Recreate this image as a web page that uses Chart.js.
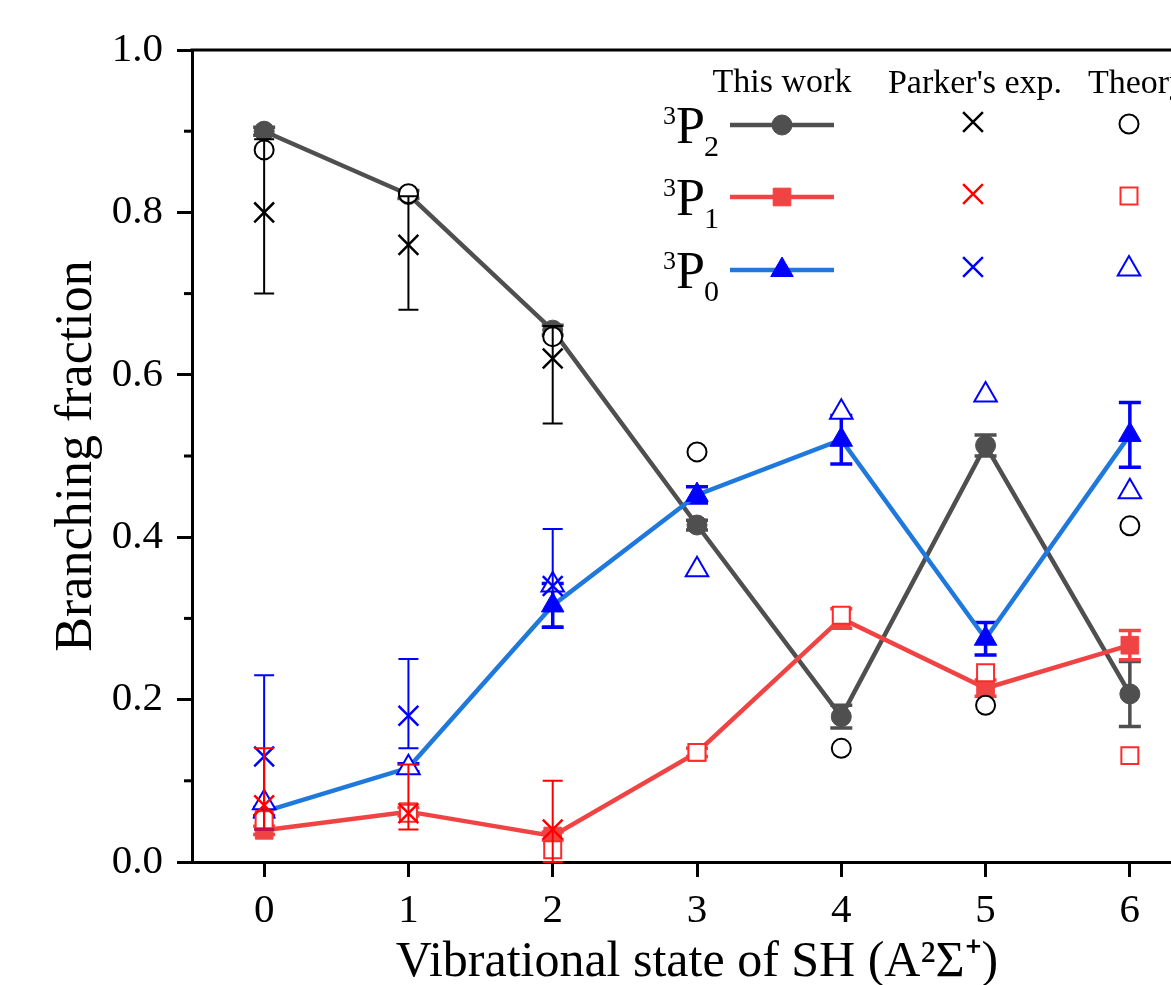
<!DOCTYPE html>
<html>
<head>
<meta charset="utf-8">
<script src="https://cdn.jsdelivr.net/npm/chart.js@4.4.1/dist/chart.umd.min.js"></script>
<style>
  html, body { margin: 0; padding: 0; overflow: hidden; background: #fff; }
  #wrap { position: relative; width: 1240px; height: 985px; }
</style>
</head>
<body>
<div id="wrap"><canvas id="chart"></canvas></div>
<script>
// vibrational states and axis ticks
const states = [0, 1, 2, 3, 4, 5, 6];
const yTicks = [0, 0.2, 0.4, 0.6, 0.8, 1.0];
const yMinorTicks = [0.1, 0.3, 0.5, 0.7, 0.9];

// this work
const workP2 = [0.900, 0.822, 0.655, 0.415, 0.179, 0.513, 0.207];
const workP2Err = [0.005, 0.005, 0.006, 0.006, 0.014, 0.013, 0.040];
const workP1 = [0.039, 0.062, 0.032, 0.135, 0.300, 0.214, 0.267];
const workP1Err = [0.005, 0.005, 0.005, 0.005, 0.012, 0.010, 0.018];
const workP0 = [0.062, 0.116, 0.316, 0.452, 0.520, 0.275, 0.526];
const workP0Err = [0.005, 0.005, 0.027, 0.010, 0.030, 0.020, 0.040];

// Parker's exp.
const parkerStates = [0, 1, 2];
const parkerP2 = [0.80, 0.76, 0.62];
const parkerP2Low = [0.70, 0.68, 0.54];
const parkerP2High = [0.89, 0.82, 0.66];
const parkerP1 = [0.07, 0.06, 0.04];
const parkerP1Low = [0.04, 0.04, 0.00];
const parkerP1High = [0.14, 0.12, 0.10];
const parkerP0 = [0.13, 0.18, 0.34];
const parkerP0Low = [0.04, 0.14, 0.29];
const parkerP0High = [0.23, 0.25, 0.41];

// Theory
const theoryP2 = [0.877, 0.823, 0.647, 0.505, 0.140, 0.193, 0.414];
const theoryP1 = [0.052, 0.060, 0.015, 0.135, 0.304, 0.233, 0.131];
const theoryP0 = [0.073, 0.116, 0.341, 0.360, 0.554, 0.575, 0.456];

const gray = '#4f4f4f';
const red = '#f04444';
const blueLine = '#1f78dc';
const blue = '#0000ff';
const font = '"Liberation Serif", "Times New Roman", serif';

function pts(xs, ys) {
	return xs.map((x, i) => ({ x: x, y: ys[i] }));
}
function symErr(vals, err, sign) {
	return vals.map((v, i) => v + sign * err[i]);
}

function workSet(label, vals, err, lineColor, markColor, style, radius, order) {
	return {
		label: label,
		data: pts(states, vals),
		showLine: true,
		borderColor: lineColor,
		borderWidth: 4.5,
		pointStyle: style,
		pointRadius: radius,
		pointHoverRadius: radius,
		pointBackgroundColor: markColor,
		pointBorderColor: markColor,
		pointBorderWidth: 1,
		order: order,
		errLow: symErr(vals, err, -1),
		errHigh: symErr(vals, err, 1),
		errColor: markColor === blue ? blue : lineColor,
		errWidth: 3.5,
		capWidth: 22
	};
}

function parkerSet(label, vals, low, high, color) {
	return {
		label: label,
		data: pts(parkerStates, vals),
		showLine: false,
		pointStyle: 'crossRot',
		pointRadius: 14,
		pointHoverRadius: 14,
		pointBackgroundColor: color,
		pointBorderColor: color,
		pointBorderWidth: 2.5,
		order: 1,
		errLow: low,
		errHigh: high,
		errColor: color,
		errWidth: 2,
		capWidth: 20
	};
}

function theorySet(label, vals, color, style, radius) {
	return {
		label: label,
		data: pts(states, vals),
		showLine: false,
		pointStyle: style,
		pointRadius: radius,
		pointHoverRadius: radius,
		pointBackgroundColor: '#ffffff',
		pointBorderColor: color,
		pointBorderWidth: 2,
		order: 2
	};
}

const datasets = [
	workSet('3P2 this work', workP2, workP2Err, gray, gray, 'circle', 10, 6),
	workSet('3P1 this work', workP1, workP1Err, red, red, 'rect', 12.5, 5),
	workSet('3P0 this work', workP0, workP0Err, blueLine, blue, 'triangle', 13, 4),
	parkerSet("3P2 Parker's exp.", parkerP2, parkerP2Low, parkerP2High, '#000000'),
	parkerSet("3P1 Parker's exp.", parkerP1, parkerP1Low, parkerP1High, '#ff0000'),
	parkerSet("3P0 Parker's exp.", parkerP0, parkerP0Low, parkerP0High, blue),
	theorySet('3P2 Theory', theoryP2, '#000000', 'circle', 9.5),
	theorySet('3P1 Theory', theoryP1, '#ff2a2a', 'rect', 12),
	theorySet('3P0 Theory', theoryP0, blue, 'triangle', 13)
];

// error bars, drawn just under each dataset's markers
const errorBars = {
	id: 'errorBars',
	beforeDatasetDraw(chart, args) {
		const ds = chart.data.datasets[args.index];
		if (!ds.errLow) return;
		const xs = chart.scales.x, ys = chart.scales.y;
		const ctx = chart.ctx;
		ctx.save();
		ctx.strokeStyle = ds.errColor;
		ctx.lineWidth = ds.errWidth;
		ds.data.forEach((p, i) => {
			const x = xs.getPixelForValue(p.x);
			const y1 = ys.getPixelForValue(ds.errLow[i]);
			const y2 = ys.getPixelForValue(ds.errHigh[i]);
			const c = ds.capWidth / 2;
			ctx.beginPath();
			ctx.moveTo(x, y1); ctx.lineTo(x, y2);
			ctx.moveTo(x - c, y1); ctx.lineTo(x + c, y1);
			ctx.moveTo(x - c, y2); ctx.lineTo(x + c, y2);
			ctx.stroke();
		});
		ctx.restore();
	}
};

// top frame line and minor ticks on the y axis
const frame = {
	id: 'frame',
	afterDraw(chart) {
		const ctx = chart.ctx;
		const a = chart.chartArea;
		const ys = chart.scales.y;
		ctx.save();
		ctx.strokeStyle = '#000';
		ctx.lineWidth = 3;
		ctx.beginPath();
		ctx.moveTo(a.left - 1.5, a.top);
		ctx.lineTo(a.right, a.top);
		ctx.moveTo(a.right, a.top);
		ctx.lineTo(a.right, a.bottom);
		ctx.stroke();
		yMinorTicks.forEach(v => {
			const y = ys.getPixelForValue(v);
			ctx.beginPath();
			ctx.moveTo(a.left, y);
			ctx.lineTo(a.left - 8, y);
			ctx.stroke();
		});
		ctx.restore();
	}
};

function drawMarker(ctx, d, x, y) {
	ctx.save();
	ctx.fillStyle = d.pointBackgroundColor;
	ctx.strokeStyle = d.pointBorderColor;
	ctx.lineWidth = d.pointBorderWidth;
	Chart.helpers.drawPoint(ctx, {
		pointStyle: d.pointStyle,
		radius: d.pointRadius,
		rotation: 0,
		borderWidth: d.pointBorderWidth
	}, x, y);
	ctx.restore();
}

const legendBox = {
	id: 'legendBox',
	afterDraw(chart) {
		const ctx = chart.ctx;
		const ds = chart.data.datasets;
		ctx.save();
		ctx.fillStyle = '#000';
		ctx.font = '34px ' + font;
		ctx.textBaseline = 'alphabetic';
		ctx.textAlign = 'center';
		ctx.fillText('This work', 782, 92);
		ctx.fillText("Parker's exp.", 975, 93);
		ctx.textAlign = 'left';
		ctx.fillText('Theory', 1088, 93);

		const rows = [125, 197, 270];
		const subs = ['2', '1', '0'];
		rows.forEach((ry, r) => {
			const w = ds[r];
			ctx.fillStyle = '#000';
			ctx.textAlign = 'left';
			ctx.font = '26px ' + font;
			ctx.fillText('3', 663, ry - 1);
			ctx.font = '52px ' + font;
			ctx.fillText('P', 676, ry + 18);
			ctx.font = '30px ' + font;
			ctx.fillText(subs[r], 704, ry + 31);

			ctx.strokeStyle = w.borderColor;
			ctx.lineWidth = w.borderWidth;
			ctx.beginPath();
			ctx.moveTo(730, ry);
			ctx.lineTo(834, ry);
			ctx.stroke();
			drawMarker(ctx, w, 782, ry);
			drawMarker(ctx, ds[3 + r], 973, ry - 3);
			drawMarker(ctx, ds[6 + r], 1129, ry - 1);
		});
		ctx.restore();
	}
};

new Chart(document.getElementById('chart'), {
	type: 'scatter',
	data: { datasets: datasets },
	plugins: [errorBars, frame, legendBox],
	options: {
		responsive: true,
		maintainAspectRatio: false,
		animation: false,
		layout: { padding: { left: 0, top: 50, right: 38, bottom: 0 } },
		plugins: {
			legend: { display: false },
			tooltip: { enabled: false }
		},
		scales: {
			x: {
				type: 'linear',
				min: -0.5,
				max: 6.5,
				afterFit: (scale) => { scale.height = 123; },
				afterBuildTicks: (scale) => { scale.ticks = states.map(v => ({ value: v })); },
				border: { display: true, color: '#000', width: 3 },
				grid: { display: true, drawOnChartArea: false, drawTicks: true, tickLength: 15, tickWidth: 3, tickColor: '#000' },
				ticks: {
					color: '#000',
					padding: 10,
					maxRotation: 0,
					font: { family: font, size: 41 },
					callback: (v) => String(v)
				},
				title: {
					display: true,
					text: 'Vibrational state of SH (A\u00b2\u03a3\u207a)',
					color: '#000',
					font: { family: font, size: 50, lineHeight: 0.9 },
					padding: { top: 0, bottom: 0 }
				}
			},
			y: {
				type: 'linear',
				min: 0,
				max: 1,
				afterFit: (scale) => { scale.width = 192; },
				afterBuildTicks: (scale) => { scale.ticks = yTicks.map(v => ({ value: v })); },
				border: { display: true, color: '#000', width: 3 },
				grid: { display: true, drawOnChartArea: false, drawTicks: true, tickLength: 15, tickWidth: 3, tickColor: '#000' },
				ticks: {
					color: '#000',
					padding: 14,
					font: { family: font, size: 41 },
					callback: (v) => v.toFixed(1)
				},
				title: {
					display: true,
					text: 'Branching fraction',
					color: '#000',
					font: { family: font, size: 52 },
					padding: { top: 46, bottom: 0 }
				}
			}
		}
	}
});
</script>
</body>
</html>
